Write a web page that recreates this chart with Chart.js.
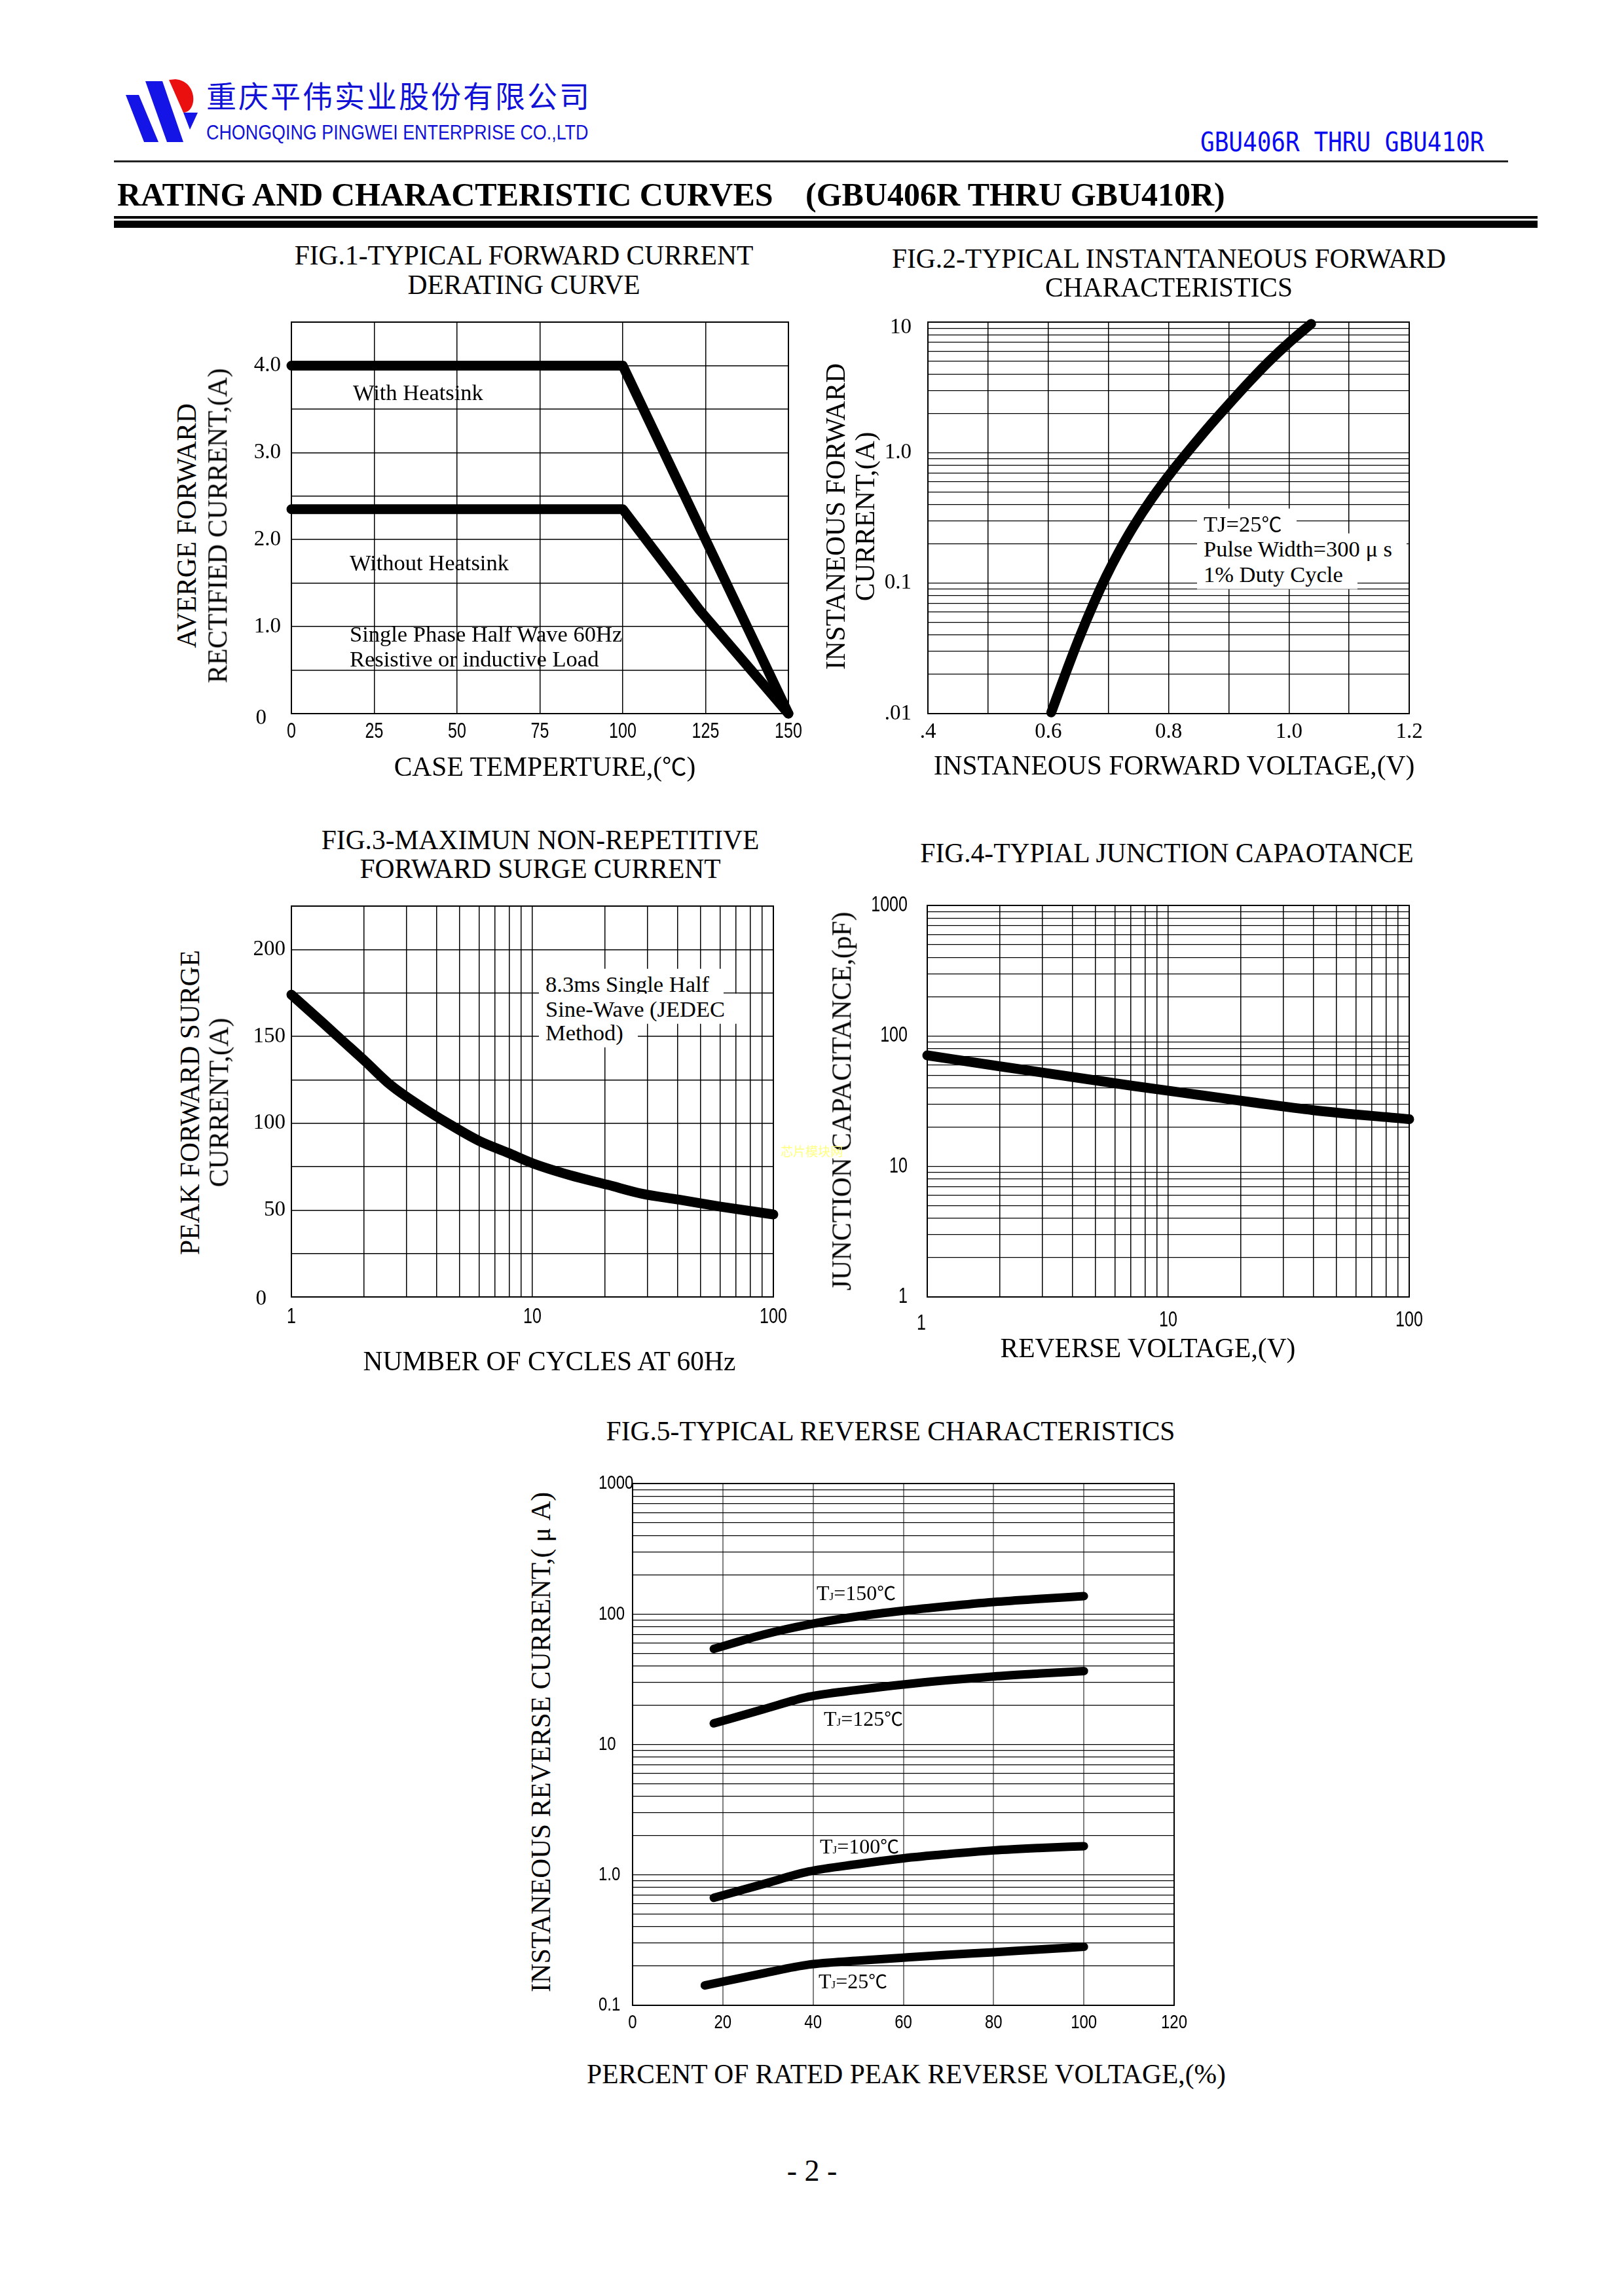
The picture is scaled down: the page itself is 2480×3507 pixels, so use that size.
<!DOCTYPE html>
<html><head><meta charset="utf-8">
<script src="https://cdn.jsdelivr.net/npm/chart.js@4.4.1/dist/chart.umd.min.js"></script>
<style>
html,body{margin:0;padding:0;background:#fff;}
body{width:2480px;height:3507px;position:relative;overflow:hidden;}
.t{position:absolute;white-space:pre;font-family:"Liberation Serif","Times New Roman",serif;color:#000;line-height:1;z-index:3;}
.c{transform:translate(-50%,-50%);}
.l{transform:translate(0,-50%);}
.r90{transform:translate(-50%,-50%) rotate(-90deg);}
.bg span{background:#fff;padding:4px 22px 4px 10px;margin-left:-10px;}
.dg{font-family:"Noto Sans CJK SC",sans-serif;font-size:0.9em;}
canvas{position:absolute;z-index:1;}
.hl{position:absolute;background:#000;}
</style></head><body>

<!-- header -->
<svg style="position:absolute;left:0;top:0;z-index:2" width="420" height="260">
  <polygon points="192,145 212,145 242,217 220,217" fill="#1414e6"/>
  <polygon points="222,124 248,124 280,217 255,217" fill="#1414e6"/>
  <path d="M258,122 L280,172 C302,171 302,124 268,121 Z" fill="#ea1010"/>
  <polygon points="280,172 302,172 290,198" fill="#1414e6"/>
</svg>
<div class="t" style="left:315px;top:121px;font-family:'Noto Sans CJK SC';font-size:46px;color:#1212d6;letter-spacing:3px;">重庆平伟实业股份有限公司</div>
<div class="t" style="left:315px;top:202px;font-family:'Liberation Sans',sans-serif;font-size:32px;color:#1212d6;transform-origin:0 50%;transform:translate(0,-50%) scaleX(0.84);">CHONGQING PINGWEI ENTERPRISE CO.,LTD</div>
<div class="t" style="left:1833px;top:217px;font-family:'DejaVu Sans Mono',monospace;font-size:40px;color:#0a0af0;transform-origin:0 50%;transform:translate(0,-50%) scaleX(0.9);">GBU406R THRU GBU410R</div>
<div class="hl" style="left:174px;top:245px;width:2129px;height:3px;background:#222;"></div>

<div class="t l" style="left:179px;top:297px;font-size:50px;font-weight:bold;">RATING AND CHARACTERISTIC CURVES</div>
<div class="t l" style="left:1230px;top:297px;font-size:50px;font-weight:bold;">(GBU406R THRU GBU410R)</div>
<div class="hl" style="left:174px;top:330px;width:2174px;height:4px;"></div>
<div class="hl" style="left:174px;top:337px;width:2174px;height:11px;"></div>

<!-- fig 1 texts -->
<div class="t c" style="left:800px;top:391px;font-size:41.5px;">FIG.1-TYPICAL FORWARD CURRENT</div>
<div class="t c" style="left:800px;top:436px;font-size:41.5px;">DERATING CURVE</div>
<div class="t r90" style="left:286px;top:803px;font-size:41.5px;">AVERGE FORWARD</div>
<div class="t r90" style="left:333px;top:803px;font-size:41.5px;">RECTIFIED CURRENT,(A)</div>
<div class="t c" style="left:832px;top:1172px;font-size:41.5px;">CASE TEMPERTURE,(<span class="dg">℃</span>)</div>
<div class="t l" style="left:539px;top:599px;font-size:34.5px;">With Heatsink</div>
<div class="t l" style="left:534px;top:859px;font-size:34.5px;">Without Heatsink</div>
<div class="t l" style="left:534px;top:968px;font-size:34.5px;">Single Phase Half Wave 60Hz</div>
<div class="t l" style="left:534px;top:1006px;font-size:34.5px;">Resistive or inductive Load</div>

<!-- fig 2 texts -->
<div class="t c" style="left:1785px;top:396px;font-size:41.5px;">FIG.2-TYPICAL INSTANTANEOUS FORWARD</div>
<div class="t c" style="left:1785px;top:440px;font-size:41.5px;">CHARACTERISTICS</div>
<div class="t r90" style="left:1277px;top:789px;font-size:41.5px;">INSTANEOUS FORWARD</div>
<div class="t r90" style="left:1322px;top:789px;font-size:41.5px;">CURRENT,(A)</div>
<div class="t c" style="left:1793px;top:1170px;font-size:41.5px;">INSTANEOUS FORWARD VOLTAGE,(V)</div>
<div class="t l bg" style="left:1838px;top:800px;font-size:34.5px;"><span>TJ=25<span class="dg" style="padding:0;margin:0">℃</span></span></div>
<div class="t l bg" style="left:1838px;top:838px;font-size:34.5px;"><span>Pulse Width=300 μ s</span></div>
<div class="t l bg" style="left:1838px;top:877px;font-size:34.5px;"><span>1% Duty Cycle</span></div>

<!-- fig 3 texts -->
<div class="t c" style="left:825px;top:1284px;font-size:41.5px;">FIG.3-MAXIMUN NON-REPETITIVE</div>
<div class="t c" style="left:825px;top:1328px;font-size:41.5px;">FORWARD SURGE CURRENT</div>
<div class="t r90" style="left:291px;top:1684px;font-size:41.5px;">PEAK FORWARD SURGE</div>
<div class="t r90" style="left:335px;top:1684px;font-size:41.5px;">CURRENT,(A)</div>
<div class="t c" style="left:839px;top:2080px;font-size:41.5px;">NUMBER OF CYCLES AT 60Hz</div>
<div class="t l bg" style="left:833px;top:1503px;font-size:34.5px;"><span>8.3ms Single Half</span></div>
<div class="t l bg" style="left:833px;top:1541px;font-size:34.5px;"><span>Sine-Wave (JEDEC</span></div>
<div class="t l bg" style="left:833px;top:1577px;font-size:34.5px;"><span>Method)</span></div>

<!-- fig 4 texts -->
<div class="t c" style="left:1782px;top:1304px;font-size:41.5px;">FIG.4-TYPIAL JUNCTION CAPAOTANCE</div>
<div class="t r90" style="left:1286px;top:1682px;font-size:41.5px;">JUNCTION CAPACITANCE,(pF)</div>
<div class="t c" style="left:1753px;top:2060px;font-size:41.5px;">REVERSE VOLTAGE,(V)</div>
<div class="t l" style="left:1192px;top:1757px;font-family:'Noto Sans CJK SC';font-size:19px;color:#ffff80;">芯片模块网</div>

<!-- fig 5 texts -->
<div class="t c" style="left:1360px;top:2187px;font-size:41.5px;">FIG.5-TYPICAL REVERSE CHARACTERISTICS</div>
<div class="t r90" style="left:827px;top:2661px;font-size:41.5px;">INSTANEOUS REVERSE CURRENT,( μ A)</div>
<div class="t c" style="left:1384px;top:3169px;font-size:41.5px;">PERCENT OF RATED PEAK REVERSE VOLTAGE,(%)</div>
<div class="t l" style="left:1247px;top:2433px;font-size:32px;">T<span style="font-size:17px">J</span>=150<span class="dg">℃</span></div>
<div class="t l" style="left:1258px;top:2625px;font-size:32px;">T<span style="font-size:17px">J</span>=125<span class="dg">℃</span></div>
<div class="t l" style="left:1252px;top:2820px;font-size:32px;">T<span style="font-size:17px">J</span>=100<span class="dg">℃</span></div>
<div class="t l" style="left:1250px;top:3026px;font-size:32px;">T<span style="font-size:17px">J</span>=25<span class="dg">℃</span></div>

<div class="t c" style="left:1240px;top:3316px;font-size:46px;">- 2 -</div>

<script>
// ---------- data ----------
// FIG.1 derating
const fig1Temp = [0, 100, 150];
const fig1WithHeatsink = [4.0, 4.0, 0.0];
const fig1TempNoSink = [0, 100, 123, 150];
const fig1WithoutHeatsink = [2.35, 2.35, 1.2, 0.0];
const fig1XTickValues = [0, 25, 50, 75, 100, 125, 150];
const fig1XTickLabels = ['0', '25', '50', '75', '100', '125', '150'];
const fig1YTickValues = [0, 1, 2, 3, 4];
const fig1YTickLabels = ['0', '1.0', '2.0', '3.0', '4.0'];

// FIG.2 forward characteristics
const fig2Voltage = [0.605, 0.629, 0.652, 0.676, 0.696, 0.716, 0.742, 0.772, 0.809, 0.839, 0.869, 0.902, 0.936, 0.966, 1.002, 1.037];
const fig2Current = [0.0102, 0.0204, 0.0385, 0.0707, 0.112, 0.169, 0.273, 0.444, 0.751, 1.11, 1.62, 2.40, 3.56, 4.95, 7.08, 9.70];
const fig2XTickValues = [0.4, 0.6, 0.8, 1.0, 1.2];
const fig2XTickLabels = ['.4', '0.6', '0.8', '1.0', '1.2'];
const fig2YTickValues = [0.01, 0.1, 1, 10];
const fig2YTickLabels = ['.01', '0.1', '1.0', '10'];

// FIG.3 surge current
const fig3Cycles = [1, 1.37, 1.6, 2.03, 2.58, 3.42, 4.52, 5.98, 7.91, 10, 14.4, 20.6, 28.3, 40.6, 60.4, 100];
const fig3Surge = [174, 157, 148.5, 135.5, 122, 110, 99.5, 90, 83, 77, 70, 64.5, 59.5, 56, 52, 47.5];
const fig3XTickValues = [1, 10, 100];
const fig3XTickLabels = ['1', '10', '100'];
const fig3YTickValues = [0, 50, 100, 150, 200];
const fig3YTickLabels = ['0', '50', '100', '150', '200'];

// FIG.4 junction capacitance
const fig4Voltage = [1, 2, 4, 7.1, 13.9, 22.4, 39.9, 100];
const fig4Capacitance = [71, 58.5, 48.5, 41.5, 35, 31, 27, 23];
const fig4XTickValues = [1, 10, 100];
const fig4XTickLabels = ['1', '10', '100'];
const fig4YTickValues = [1, 10, 100, 1000];
const fig4YTickLabels = ['1', '10', '100', '1000'];

// FIG.5 reverse characteristics
const fig5Percent = [18, 29, 39, 50, 60, 70, 80, 90, 100];
const fig5Percent25 = [16, 29, 39, 50, 60, 70, 80, 90, 100];
const fig5Tj150 = [54, 69.5, 83, 96, 106, 115, 123.5, 130.5, 137];
const fig5Tj125 = [14.5, 18.6, 23.2, 26.2, 28.8, 31.1, 33.2, 34.9, 36.5];
const fig5Tj100 = [0.667, 0.851, 1.06, 1.21, 1.34, 1.445, 1.54, 1.607, 1.66];
const fig5Tj25 = [0.142, 0.176, 0.205, 0.220, 0.232, 0.244, 0.255, 0.268, 0.281];
const fig5XTickValues = [0, 20, 40, 60, 80, 100, 120];
const fig5XTickLabels = ['0', '20', '40', '60', '80', '100', '120'];
const fig5YTickValues = [0.1, 1, 10, 100, 1000];
const fig5YTickLabels = ['0.1', '1.0', '10', '100', '1000'];

// ---------- helpers ----------
function linGrid(min, max, step) {
  const a = [];
  for (let v = min; v <= max + step * 1e-6; v += step) a.push(Math.round(v * 1e6) / 1e6);
  return a;
}
function logGrid(minExp, maxExp) {
  const a = [];
  for (let e = minExp; e < maxExp; e++)
    for (let s = 1; s <= 9; s++) a.push(parseFloat((s * Math.pow(10, e)).toPrecision(6)));
  a.push(Math.pow(10, maxExp));
  return a;
}
function pts(xs, ys) { return xs.map((x, i) => ({ x: x, y: ys[i] })); }

const SERIF_FONT = { family: '"Liberation Serif", "Times New Roman", serif', size: 33, sx: 1 };
const NARROW_FONT = { family: '"Liberation Sans", Arial, sans-serif', size: 33, sx: 0.76 };
const NARROW_SMALL = { family: '"Liberation Sans", Arial, sans-serif', size: 30, sx: 0.8 };

const framePlugin = {
  id: 'frame',
  beforeDatasetsDraw(chart) {
    const a = chart.chartArea, c = chart.ctx;
    c.save(); c.strokeStyle = '#000'; c.lineWidth = 2;
    c.strokeRect(a.left, a.top, a.right - a.left, a.bottom - a.top);
    c.restore();
  }
};

function drawLabel(ctx, text, x, y, f, align) {
  ctx.save();
  ctx.font = f.size + 'px ' + f.family;
  ctx.fillStyle = '#000';
  ctx.textAlign = align;
  ctx.textBaseline = 'middle';
  ctx.translate(x, y);
  ctx.scale(f.sx || 1, 1);
  ctx.fillText(text, 0, 0);
  ctx.restore();
}

// tick labels drawn at the scales' own pixel positions
function tickTextPlugin(s) {
  return {
    id: 'tickText',
    afterDraw(chart) {
      const ctx = chart.ctx, a = chart.chartArea;
      const xs = chart.scales.x, ys = chart.scales.y;
      const xsh = s.xShift || {}, ysh = s.yShift || {};
      s.xVals.forEach((v, i) => {
        const o = xsh[i] || [0, 0];
        drawLabel(ctx, s.xLabels[i], xs.getPixelForValue(v) + o[0], a.bottom + s.xDy + o[1], s.xFont, 'center');
      });
      s.yVals.forEach((v, i) => {
        const o = ysh[i] || [0, 0];
        const y = ys.getPixelForValue(v) + o[1];
        if (s.yAlign === 'left') drawLabel(ctx, s.yLabels[i], a.left - s.yW + o[0], y, s.yFont, 'left');
        else drawLabel(ctx, s.yLabels[i], a.left - s.yGap + o[0], y, s.yFont, 'right');
      });
    }
  };
}

function makeChart(plot, s) {
  const padL = 20, padR = 50, padT = 30, padB = 10;
  const W = (plot.r - plot.l) + s.yW + padL + padR;
  const H = (plot.b - plot.t) + s.xH + padT + padB;
  const cv = document.createElement('canvas');
  cv.width = W; cv.height = H;
  cv.style.left = (plot.l - s.yW - padL) + 'px';
  cv.style.top = (plot.t - padT) + 'px';
  cv.style.width = W + 'px'; cv.style.height = H + 'px';
  document.body.appendChild(cv);
  const datasets = s.series.map(d => ({
    data: d.data, borderColor: '#000', borderWidth: s.lw, pointRadius: 0,
    tension: d.smooth ? 0.4 : 0, cubicInterpolationMode: d.smooth ? 'monotone' : 'default',
    borderCapStyle: 'round', borderJoinStyle: 'round', fill: false, clip: false
  }));
  return new Chart(cv, {
    type: 'line',
    data: { datasets: datasets },
    plugins: [framePlugin, tickTextPlugin(s)],
    options: {
      responsive: false, animation: false, devicePixelRatio: 1,
      layout: { padding: { left: padL, right: padR, top: padT, bottom: padB } },
      plugins: { legend: { display: false }, tooltip: { enabled: false }, title: { display: false } },
      scales: {
        x: {
          type: s.xType, min: s.xMin, max: s.xMax, position: 'bottom',
          afterBuildTicks: sc => { sc.ticks = s.xGrid.map(v => ({ value: v })); },
          afterFit: sc => { sc.height = s.xH; },
          grid: { color: s.xGridColor || '#000', lineWidth: s.xGridW || 1.5, drawTicks: false },
          border: { display: false },
          ticks: { display: false }
        },
        y: {
          type: s.yType, min: s.yMin, max: s.yMax, position: 'left',
          afterBuildTicks: sc => { sc.ticks = s.yGrid.map(v => ({ value: v })); },
          afterFit: sc => { sc.width = s.yW; },
          grid: { color: s.yGridColor || '#000', lineWidth: s.yGridW || 1.5, drawTicks: false },
          border: { display: false },
          ticks: { display: false }
        }
      }
    }
  });
}

// FIG.1
makeChart({ l: 445, t: 492, r: 1204, b: 1090 }, {
  yW: 110, xH: 80, lw: 15,
  xType: 'linear', xMin: 0, xMax: 150, xGrid: linGrid(0, 150, 25),
  xVals: fig1XTickValues, xLabels: fig1XTickLabels, xFont: NARROW_FONT, xDy: 28,
  yType: 'linear', yMin: 0, yMax: 4.5, yGrid: linGrid(0, 4.5, 0.5),
  yVals: fig1YTickValues, yLabels: fig1YTickLabels, yFont: SERIF_FONT, yGap: 16, yShift: { 0: [-22, 7] },
  series: [{ data: pts(fig1Temp, fig1WithHeatsink) }, { data: pts(fig1TempNoSink, fig1WithoutHeatsink) }]
});

// FIG.2
makeChart({ l: 1417, t: 492, r: 2152, b: 1090 }, {
  yW: 110, xH: 80, lw: 15,
  xType: 'linear', xMin: 0.4, xMax: 1.2, xGrid: linGrid(0.4, 1.2, 0.1),
  xVals: fig2XTickValues, xLabels: fig2XTickLabels, xFont: SERIF_FONT, xDy: 28,
  yType: 'logarithmic', yMin: 0.01, yMax: 10, yGrid: logGrid(-2, 1), yGridW: 1.2,
  yVals: fig2YTickValues, yLabels: fig2YTickLabels, yFont: SERIF_FONT, yGap: 25, yShift: { 3: [0, 8] },
  series: [{ data: pts(fig2Voltage, fig2Current), smooth: true }]
});

// FIG.3
makeChart({ l: 445, t: 1384, r: 1181, b: 1981 }, {
  yW: 110, xH: 80, lw: 15,
  xType: 'logarithmic', xMin: 1, xMax: 100, xGrid: logGrid(0, 2),
  xVals: fig3XTickValues, xLabels: fig3XTickLabels, xFont: NARROW_FONT, xDy: 31,
  yType: 'linear', yMin: 0, yMax: 225, yGrid: linGrid(0, 225, 25),
  yVals: fig3YTickValues, yLabels: fig3YTickLabels, yFont: SERIF_FONT, yGap: 9, yShift: { 0: [-29, 3] },
  series: [{ data: pts(fig3Cycles, fig3Surge), smooth: true }]
});

// FIG.4
makeChart({ l: 1416, t: 1383, r: 2152, b: 1981 }, {
  yW: 110, xH: 80, lw: 15,
  xType: 'logarithmic', xMin: 1, xMax: 100, xGrid: logGrid(0, 2),
  xVals: fig4XTickValues, xLabels: fig4XTickLabels, xFont: NARROW_FONT, xDy: 36, xShift: { 0: [-9, 5] },
  yType: 'logarithmic', yMin: 1, yMax: 1000, yGrid: logGrid(0, 3), yGridW: 1.2,
  yVals: fig4YTickValues, yLabels: fig4YTickLabels, yFont: NARROW_FONT, yGap: 30,
  series: [{ data: pts(fig4Voltage, fig4Capacitance), smooth: true }]
});

// FIG.5
makeChart({ l: 966, t: 2266, r: 1793, b: 3063 }, {
  yW: 52, xH: 70, lw: 13,
  xType: 'linear', xMin: 0, xMax: 120, xGrid: linGrid(0, 120, 20), xGridColor: '#808080', xGridW: 2,
  xVals: fig5XTickValues, xLabels: fig5XTickLabels, xFont: NARROW_SMALL, xDy: 27,
  yType: 'logarithmic', yMin: 0.1, yMax: 1000, yGrid: logGrid(-1, 3), yGridW: 1.2,
  yVals: fig5YTickValues, yLabels: fig5YTickLabels, yFont: NARROW_SMALL, yAlign: 'left',
  series: [
    { data: pts(fig5Percent, fig5Tj150), smooth: true },
    { data: pts(fig5Percent, fig5Tj125), smooth: true },
    { data: pts(fig5Percent, fig5Tj100), smooth: true },
    { data: pts(fig5Percent25, fig5Tj25), smooth: true }
  ]
});
</script>
</body></html>
